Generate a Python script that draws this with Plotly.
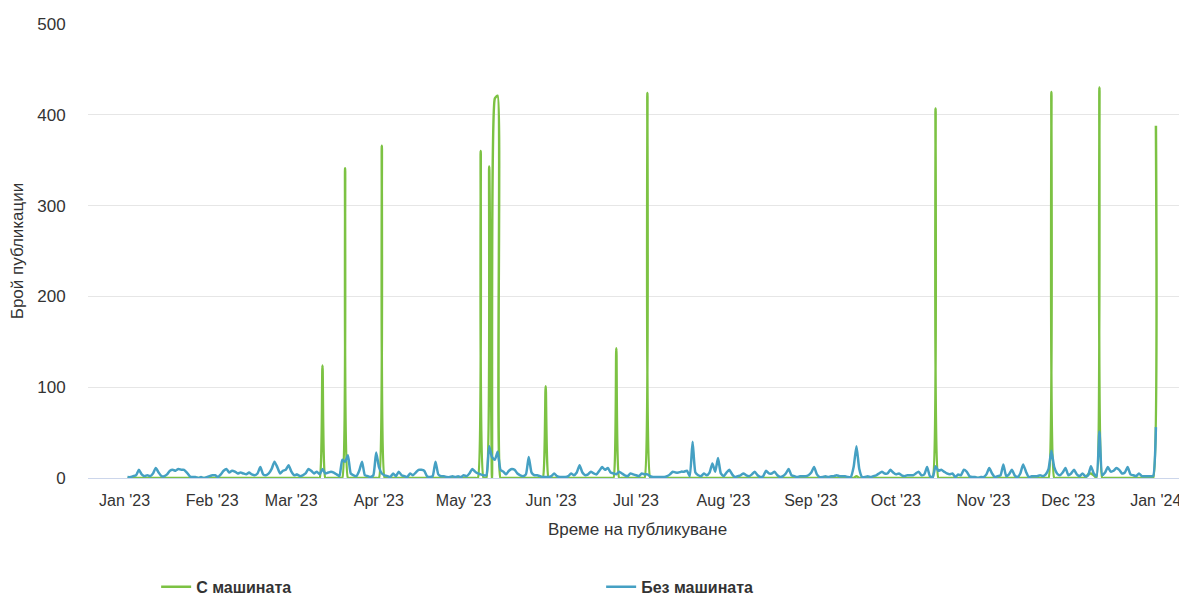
import plotly.graph_objects as go
import pandas as pd

start_date = "2023-01-01"
n_days = 365

# "С машината" – daily counts (Jan 1 .. Dec 31, 2023), rows of 10 days
green_values = [
    0, 0, 0, 0, 0, 0, 0, 0, 0, 0,
    0, 0, 0, 0, 0, 0, 0, 0, 0, 0,
    0, 0, 0, 0, 0, 0, 0, 0, 0, 0,
    0, 0, 0, 0, 0, 0, 0, 0, 0, 0,
    0, 0, 0, 0, 0, 0, 0, 0, 0, 0,
    0, 0, 0, 0, 0, 0, 0, 0, 0, 0,
    0, 0, 0, 0, 0, 0, 0, 0, 0, 124,
    0, 0, 0, 0, 0, 0, 0, 341, 0, 0,
    0, 0, 0, 0, 0, 0, 0, 0, 0, 0,
    366, 0, 0, 0, 0, 0, 0, 0, 0, 0,
    0, 0, 0, 0, 0, 0, 0, 0, 0, 0,
    0, 0, 0, 0, 0, 0, 0, 0, 0, 0,
    0, 0, 0, 0, 0, 360, 0, 0, 343, 0,
    418, 421, 0, 0, 0, 0, 0, 0, 0, 0,
    0, 0, 0, 0, 0, 0, 0, 0, 101, 0,
    0, 0, 0, 0, 0, 0, 0, 0, 0, 0,
    0, 0, 0, 0, 0, 0, 0, 0, 0, 0,
    0, 0, 0, 143, 0, 0, 0, 0, 0, 0,
    0, 0, 0, 0, 424, 0, 0, 0, 0, 0,
    0, 0, 0, 0, 0, 0, 0, 0, 0, 0,
    0, 0, 0, 0, 0, 0, 0, 0, 0, 0,
    0, 0, 0, 0, 0, 0, 0, 0, 0, 0,
    0, 0, 0, 0, 0, 0, 0, 0, 0, 0,
    0, 0, 0, 0, 0, 0, 0, 0, 0, 0,
    0, 0, 0, 0, 0, 0, 0, 0, 0, 0,
    0, 0, 0, 0, 0, 0, 0, 0, 2, 0,
    0, 0, 0, 0, 0, 0, 0, 0, 0, 0,
    0, 0, 0, 0, 0, 0, 0, 0, 0, 0,
    0, 0, 0, 0, 0, 0, 407, 0, 0, 0,
    0, 0, 0, 0, 0, 0, 0, 0, 0, 0,
    0, 0, 0, 0, 0, 0, 0, 0, 0, 0,
    0, 0, 0, 0, 0, 0, 0, 0, 0, 0,
    0, 0, 0, 0, 0, 0, 0, 425, 0, 0,
    0, 0, 0, 0, 0, 0, 0, 0, 0, 0,
    4, 5, 3, 0, 430, 0, 0, 0, 0, 0,
    0, 0, 0, 0, 0, 0, 0, 0, 0, 0,
    0, 0, 0, 0, 388,
]

# "Без машината" – daily counts, rows of 10 days
blue_values = [
    1, 1, 2, 3, 9, 4, 2, 3, 2, 5,
    11, 6, 2, 2, 4, 8, 9, 8, 10, 9,
    9, 6, 2, 1, 1, 0, 1, 0, 1, 2,
    3, 3, 1, 4, 8, 10, 6, 8, 7, 5,
    6, 5, 4, 6, 4, 3, 5, 12, 4, 3,
    5, 10, 18, 12, 5, 8, 9, 14, 7, 3,
    4, 2, 3, 5, 10, 8, 5, 7, 4, 10,
    5, 6, 7, 6, 4, 2, 20, 18, 25, 5,
    3, 2, 8, 18, 3, 2, 1, 3, 28, 12,
    5, 3, 2, 1, 5, 2, 7, 3, 2, 1,
    5, 3, 6, 9, 9, 8, 2, 1, 2, 18,
    4, 2, 2, 1, 1, 2, 1, 2, 1, 3,
    2, 5, 10, 7, 5, 4, 3, 3, 35, 23,
    20, 29, 9, 7, 4, 8, 10, 9, 5, 3,
    2, 4, 23, 6, 3, 3, 2, 1, 1, 1,
    2, 5, 2, 1, 1, 1, 2, 5, 3, 6,
    14, 6, 3, 4, 7, 5, 4, 8, 12, 9,
    11, 6, 5, 4, 7, 5, 3, 2, 5, 4,
    3, 2, 5, 4, 4, 2, 1, 1, 1, 1,
    1, 2, 4, 7, 6, 6, 7, 7, 8, 2,
    40, 6, 3, 2, 5, 3, 6, 16, 7, 22,
    5, 2, 6, 9, 4, 1, 2, 3, 5, 3,
    2, 4, 7, 3, 1, 2, 8, 5, 5, 7,
    3, 1, 2, 5, 10, 3, 2, 1, 2, 2,
    2, 3, 6, 12, 4, 1, 1, 2, 1, 2,
    2, 3, 2, 2, 2, 1, 1, 12, 35, 10,
    1, 1, 2, 1, 2, 3, 5, 7, 5, 5,
    9, 6, 4, 5, 3, 2, 3, 3, 3, 5,
    7, 3, 4, 12, 2, 1, 13, 8, 9, 7,
    5, 4, 5, 1, 4, 3, 9, 7, 2, 1,
    1, 0, 1, 1, 4, 11, 5, 1, 2, 3,
    15, 2, 4, 9, 3, 1, 5, 15, 7, 1,
    2, 2, 2, 3, 2, 4, 10, 30, 12, 5,
    3, 6, 11, 3, 5, 9, 4, 2, 5, 2,
    3, 13, 5, 2, 51, 3, 6, 12, 7, 8,
    11, 9, 5, 6, 12, 4, 3, 2, 5, 2,
    2, 2, 2, 2, 56,
]

series_names = ["С машината", "Без машината"]
series_colors = ["#7cc243", "#45a0c3"]
x_title = "Време на публикуване"
y_title = "Брой публикации"

dates = pd.date_range(start_date, periods=n_days, freq="D")

fig = go.Figure()
fig.add_trace(go.Scatter(x=dates, y=green_values[:n_days], mode="lines", name=series_names[0],
                         line=dict(color=series_colors[0], width=2.5, shape="spline", smoothing=0.5)))
fig.add_trace(go.Scatter(x=dates, y=blue_values[:n_days], mode="lines", name=series_names[1],
                         line=dict(color=series_colors[1], width=2.5, shape="spline", smoothing=0.5)))

font_family = "Liberation Sans, Arial, sans-serif"

# The page body adds an 8px offset, so the figure is drawn 8px smaller.
fig.update_layout(
    width=1179, height=587,
    margin=dict(l=80, r=0, t=16, b=117, autoexpand=False),
    paper_bgcolor="white", plot_bgcolor="white",
    font=dict(family=font_family, color="#333333", size=17),
    showlegend=True,
    legend=dict(orientation="h", x=0.062, xanchor="left", y=-0.24, yanchor="middle",
                entrywidth=400, entrywidthmode="pixels",
                font=dict(size=16, family=font_family, color="#333333", weight="bold")),
)
fig.update_xaxes(
    range=["2022-12-18", "2024-01-11"],
    dtick="M1", tick0="2023-01-01", tickformat="%b '%y",
    showgrid=False, showline=True, linecolor="#ccd6eb", linewidth=1,
    ticks="outside", ticklen=8, tickcolor="rgba(0,0,0,0)",
    ticklabelshift=-3,
    tickfont=dict(size=16, color="#333333"),
    title=dict(text=x_title, font=dict(size=17, color="#333333"), standoff=14),
    zeroline=False, automargin=False,
)
fig.update_yaxes(
    range=[0, 500], dtick=100,
    showgrid=True, gridcolor="#e6e6e6", gridwidth=1,
    zeroline=False, showline=False,
    ticks="outside", ticklen=18, tickcolor="rgba(0,0,0,0)",
    tickfont=dict(size=17, color="#333333"),
    title=dict(text=y_title, font=dict(size=17, color="#333333"), standoff=18),
    automargin=False,
)

fig.write_html("out.html")
